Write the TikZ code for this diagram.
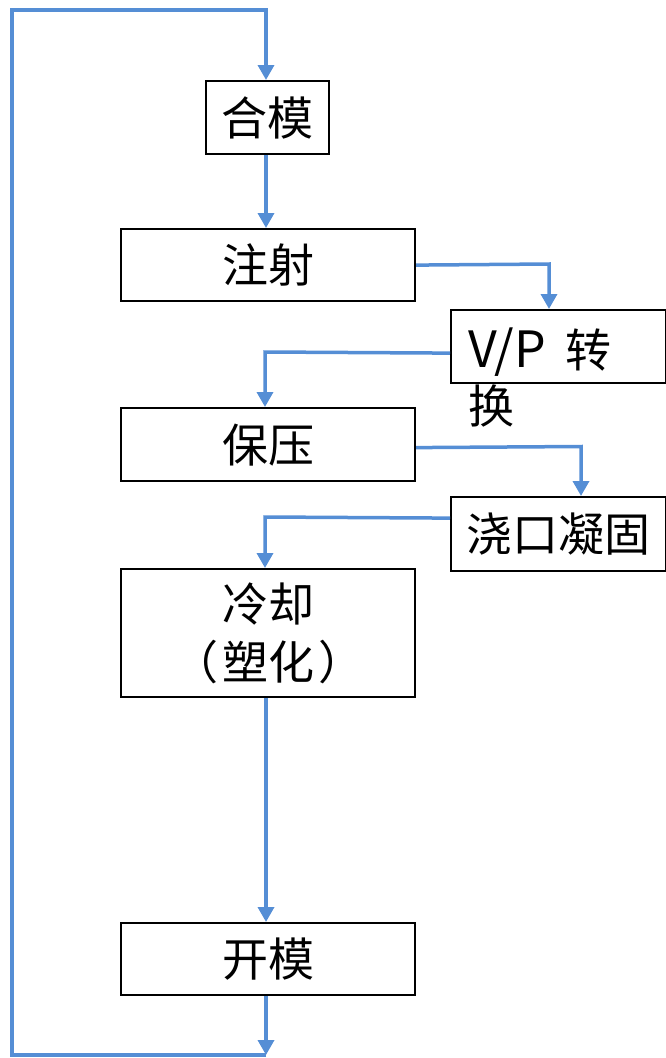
\documentclass[tikz,border=0pt]{standalone}
\usepackage{fontspec}
\setmainfont{Noto Sans CJK SC}
\usetikzlibrary{arrows.meta}
\definecolor{flowblue}{RGB}{85,142,213}
\tikzset{
  box/.style={draw=black,line width=2.2pt,inner sep=0pt,anchor=north west,
    font=\fontsize{46}{58}\selectfont,align=center},
  conn/.style={draw=flowblue,line width=3.5pt,-{Triangle[width=16pt,length=15pt]}}
}
\begin{document}
\begin{tikzpicture}[x=1pt,y=-1pt]
\useasboundingbox (0,0) rectangle (666,1058);
\coordinate (axis) at (266,0);
\node[box,minimum width=123pt,minimum height=73pt] (hemo) at (205,80) {合模};
\node[box,minimum width=294pt,minimum height=72pt] (zhushe) at (120,228) {注射};
\node[box,minimum width=215pt,minimum height=73pt] (vp) at (450,309) {};
\node[font=\fontsize{46}{56}\selectfont,align=left,anchor=north west,inner sep=0pt] (vptext) at (468,328) {{\fontsize{50}{56}\selectfont V/P}\hspace{20pt}转\\换};
\node[box,minimum width=294pt,minimum height=73pt] (baoya) at (120,407) {保压};
\node[box,minimum width=215pt,minimum height=74pt] (jiao) at (450,496) {浇口凝固};
\node[box,minimum width=294pt,minimum height=128pt] (lengque) at (120,568) {冷却\\（\kern4pt 塑化\kern4pt）};
\node[box,minimum width=294pt,minimum height=72pt] (kaimo) at (120,922) {开模};
\coordinate (bot) at (266,1055);
\coordinate (topc) at (266,10);
\draw[conn] (kaimo.south -| axis) -- (bot);
\draw[conn] (bot) -- (12,1055) -- (12,10) -- (topc) -- (hemo.north -| axis);
\draw[conn] (hemo.south -| axis) -- (zhushe.north -| axis);
\draw[conn] (zhushe.east) -- (549,264) -- (vp.north -| 549,0);
\draw[conn] ([yshift=-6.5pt]vp.west) -- (265,352) -- (baoya.north -| 265,0);
\draw[conn] ([yshift=-3pt]baoya.east) -- (581,446.5) -- (jiao.north -| 581,0);
\draw[conn] ([yshift=16pt]jiao.west) -- (265,517) -- (lengque.north -| 265,0);
\draw[conn] (lengque.south -| axis) -- (kaimo.north -| axis);
\end{tikzpicture}
\end{document}
